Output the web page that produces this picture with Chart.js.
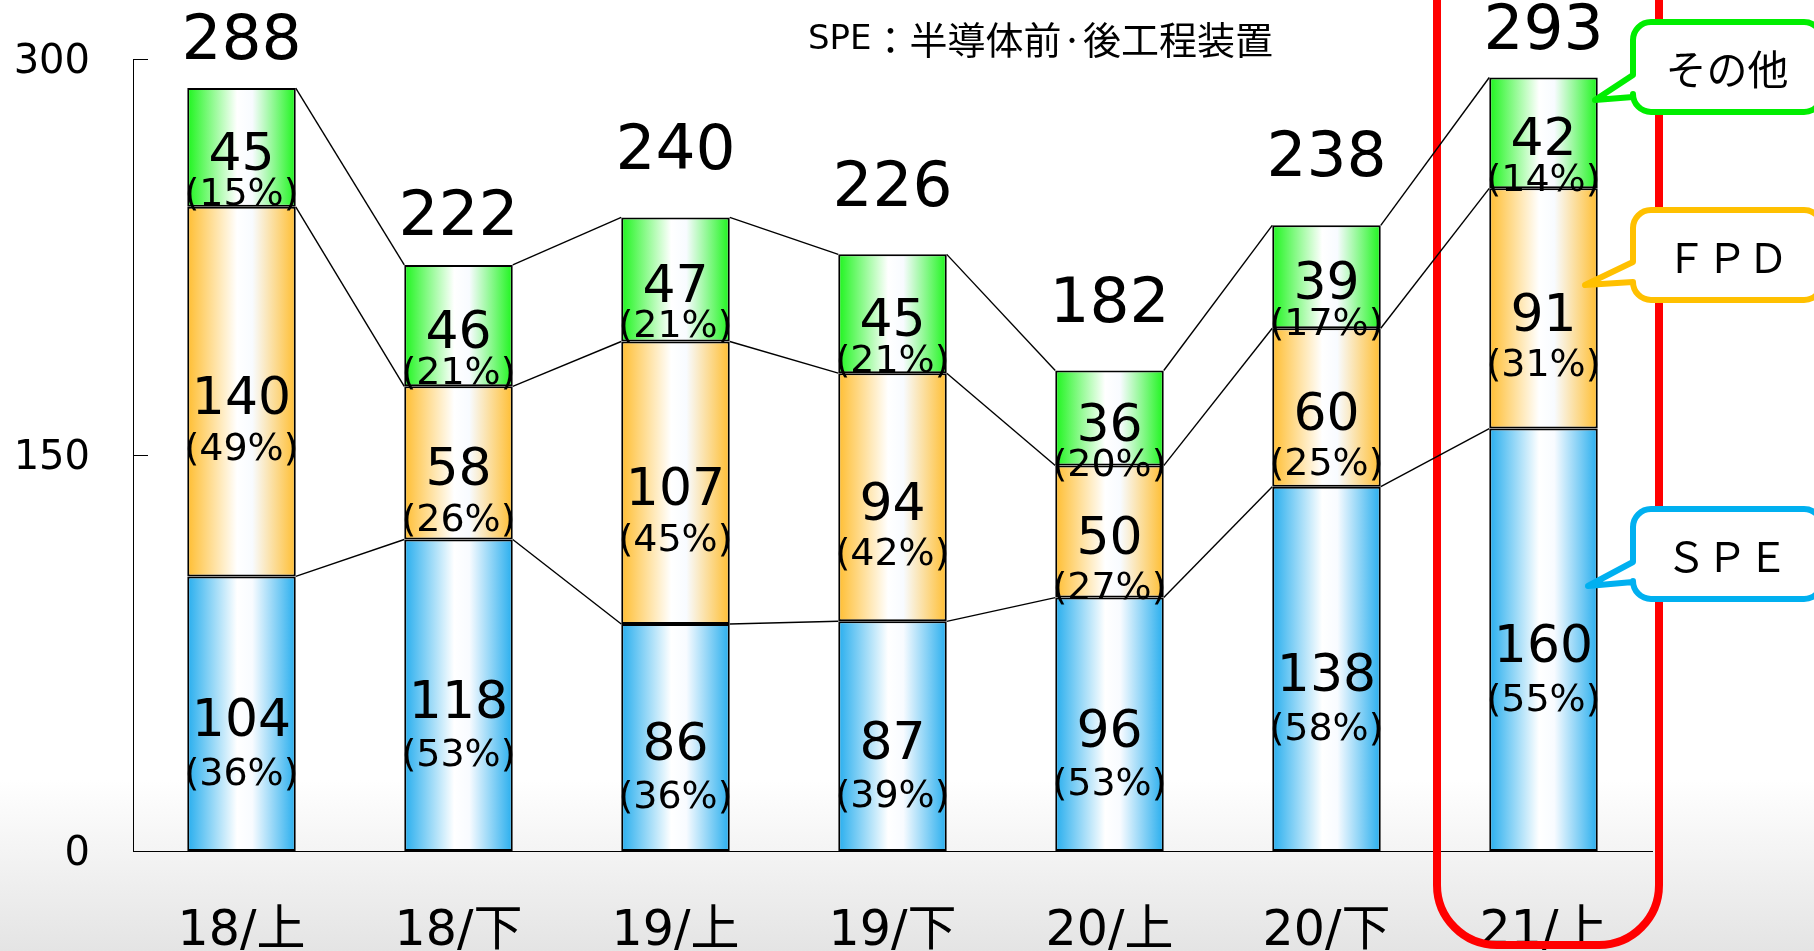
<!DOCTYPE html>
<html>
<head>
<meta charset="utf-8">
<script src="https://cdn.jsdelivr.net/npm/chart.js@4.4.1/dist/chart.umd.min.js"></script>
<style>
  html, body { margin: 0; padding: 0; }
  body {
    width: 1814px; height: 951px; overflow: hidden;
    background: linear-gradient(to bottom, #ffffff 0px, #ffffff 780px, #e4e4e4 951px);
  }
  #wrap { position: relative; width: 1814px; height: 951px; }
  canvas { display: block; }
</style>
</head>
<body>
<div id="wrap"><canvas id="c" width="1814" height="951"></canvas></div>
<script>
// ---- data ----
const categories = ['18/上', '18/下', '19/上', '19/下', '20/上', '20/下', '21/上'];
const speValues   = [104, 118, 86, 87, 96, 138, 160];
const fpdValues   = [140, 58, 107, 94, 50, 60, 91];
const otherValues = [45, 46, 47, 45, 36, 39, 42];
const totals      = [288, 222, 240, 226, 182, 238, 293];
const spePct      = [36, 53, 36, 39, 53, 58, 55];
const fpdPct      = [49, 26, 45, 42, 27, 25, 31];
const otherPct    = [15, 21, 21, 21, 20, 17, 14];
const yTicks      = [0, 150, 300];
const seriesNames = ['ＳＰＥ', 'ＦＰＤ', 'その他'];
const noteText    = 'SPE：半導体前·後工程装置';

// ---- styling ----
const FONT = "'DejaVu Sans', 'Noto Sans CJK JP', sans-serif";
const CJK = "'Noto Sans CJK JP', sans-serif";
const seriesColors = ['rgb(40,174,238)', 'rgb(255,190,50)', 'rgb(30,245,30)'];
const calloutColors = ['#00B0F0', '#FFC000', '#00EE00'];
const pctGap = [52, 49, 39];          // distance value -> percent label per series
const totalLift = [45, 46, 65, 65, 65, 66, 45]; // total label distance above bar

function gradFor(color) {
  return function (ctx) {
    const chart = ctx.chart;
    const area = chart.chartArea;
    if (!area) return color;
    const xs = chart.scales.x;
    const cx = xs.getPixelForValue(ctx.dataIndex);
    const w = (area.right - area.left) / categories.length * 0.5;
    const g = chart.ctx.createLinearGradient(cx - w / 2, 0, cx + w / 2, 0);
    g.addColorStop(0, color);
    g.addColorStop(0.46, '#ffffff');
    g.addColorStop(0.6, '#f8fbff');
    g.addColorStop(1, color);
    return g;
  };
}

const pctArrays = [spePct, fpdPct, otherPct];

const decorPlugin = {
  id: 'decor',
  beforeDatasetsDraw(chart) {
    const c = chart.ctx;
    c.save();
    c.strokeStyle = '#FF0000';
    c.lineWidth = 8;
    const x0 = 1437, x1 = 1659, y0 = -60, y1 = 945, r = 60;
    c.beginPath();
    c.moveTo(x0, y0);
    c.lineTo(x0, y1 - r);
    c.arcTo(x0, y1, x0 + r, y1, r);
    c.lineTo(x1 - r, y1);
    c.arcTo(x1, y1, x1, y1 - r, r);
    c.lineTo(x1, y0);
    c.stroke();
    c.restore();
  },
  afterDatasetsDraw(chart) {
    const c = chart.ctx;
    const area = chart.chartArea;
    c.save();
    c.strokeStyle = '#000';
    c.lineWidth = 1.4;
    for (let d = 0; d < 3; d++) {
      const meta = chart.getDatasetMeta(d);
      for (let i = 0; i < meta.data.length - 1; i++) {
        const a = meta.data[i], b = meta.data[i + 1];
        c.beginPath();
        c.moveTo(a.x + a.width / 2, a.y);
        c.lineTo(b.x - b.width / 2, b.y);
        c.stroke();
      }
    }
    c.restore();

    c.save();
    c.strokeStyle = '#000';
    c.lineWidth = 1;
    const ys = chart.scales.y;
    yTicks.forEach(v => {
      const py = Math.round(ys.getPixelForValue(v)) + 0.5;
      c.beginPath();
      c.moveTo(area.left, py);
      c.lineTo(area.left + 15, py);
      c.stroke();
    });
    c.restore();

    c.save();
    c.fillStyle = '#000';
    c.textAlign = 'center';
    c.textBaseline = 'middle';
    for (let d = 0; d < 3; d++) {
      const meta = chart.getDatasetMeta(d);
      const vals = chart.data.datasets[d].data;
      meta.data.forEach((bar, i) => {
        const mid = (bar.y + bar.base) / 2 + 9;
        c.font = '52px ' + FONT;
        c.fillText(String(vals[i]), bar.x, mid);
        c.font = '38px ' + FONT;
        c.fillText('(' + pctArrays[d][i] + '%)', bar.x, mid + pctGap[d]);
      });
    }
    const top = chart.getDatasetMeta(2);
    c.font = '63px ' + FONT;
    top.data.forEach((bar, i) => {
      c.fillText(String(totals[i]), bar.x, bar.y - totalLift[i]);
    });
    c.restore();
  },
  afterDraw(chart) {
    const c = chart.ctx;
    c.save();
    c.fillStyle = '#000';
    c.textAlign = 'left';
    c.textBaseline = 'middle';
    const head = noteText.slice(0, 3), rest = noteText.slice(3);
    c.font = '34px ' + FONT;
    c.fillText(head, 808, 40);
    const hw = c.measureText(head).width;
    c.font = '38px ' + CJK;
    c.fillText(rest, 808 + hw, 40);
    c.restore();

    const boxes = [
      { d: 0, y0: 509, y1: 599, yA: 562, yB: 582 },
      { d: 1, y0: 210, y1: 300, yA: 262, yB: 282 },
      { d: 2, y0: 22,  y1: 112, yA: 75,  yB: 97 }
    ];
    const tips = [[1588, 586], [1585, 285], [1595, 100]];
    boxes.forEach((b, k) => {
      const x0 = 1633, x1 = 1822, r = 18;
      const [tx, ty] = tips[k];
      c.save();
      c.beginPath();
      c.moveTo(x0 + r, b.y0);
      c.lineTo(x1 - r, b.y0);
      c.arcTo(x1, b.y0, x1, b.y0 + r, r);
      c.lineTo(x1, b.y1 - r);
      c.arcTo(x1, b.y1, x1 - r, b.y1, r);
      c.lineTo(x0 + r, b.y1);
      c.arcTo(x0, b.y1, x0, b.y1 - r, r);
      c.lineTo(x0, b.yB);
      c.lineTo(tx, ty);
      c.lineTo(x0, b.yA);
      c.lineTo(x0, b.y0 + r);
      c.arcTo(x0, b.y0, x0 + r, b.y0, r);
      c.closePath();
      c.fillStyle = '#ffffff';
      c.fill();
      c.lineWidth = 6;
      c.lineJoin = 'round';
      c.strokeStyle = calloutColors[b.d];
      c.stroke();
      c.fillStyle = '#000';
      c.font = '41px ' + CJK;
      c.textAlign = 'center';
      c.textBaseline = 'middle';
      c.fillText(seriesNames[b.d], 1727, (b.y0 + b.y1) / 2 + 2);
      c.restore();
    });
  }
};

Chart.defaults.font.family = FONT;
Chart.defaults.color = '#000';

new Chart(document.getElementById('c'), {
  type: 'bar',
  data: {
    labels: categories,
    datasets: [
      { label: seriesNames[0], data: speValues,   backgroundColor: gradFor(seriesColors[0]) },
      { label: seriesNames[1], data: fpdValues,   backgroundColor: gradFor(seriesColors[1]) },
      { label: seriesNames[2], data: otherValues, backgroundColor: gradFor(seriesColors[2]) }
    ].map(ds => Object.assign(ds, {
      borderColor: '#000', borderWidth: 2, borderSkipped: false,
      categoryPercentage: 1.0, barPercentage: 0.5
    }))
  },
  options: {
    responsive: false,
    animation: false,
    devicePixelRatio: 1,
    layout: { padding: { top: 59, right: 162, left: 0, bottom: 0 } },
    plugins: { legend: { display: false }, tooltip: { enabled: false } },
    scales: {
      x: {
        stacked: true,
        grid: { display: false, drawTicks: false },
        border: { display: true, color: '#000', width: 1 },
        ticks: { font: { size: 49 }, padding: 52, color: '#000', maxRotation: 0 },
        afterFit(s) { s.height = 100; }
      },
      y: {
        stacked: true,
        min: 0, max: 300,
        afterBuildTicks(s) { s.ticks = yTicks.map(v => ({ value: v })); },
        grid: { display: false, drawTicks: false },
        border: { display: true, color: '#000', width: 1 },
        ticks: { font: { size: 40 }, padding: 43, color: '#000', labelOffset: 4 },
        afterFit(s) { s.width = 133; s.paddingTop = 0; s.paddingBottom = 0; }
      }
    }
  },
  plugins: [decorPlugin]
});
</script>
</body>
</html>
